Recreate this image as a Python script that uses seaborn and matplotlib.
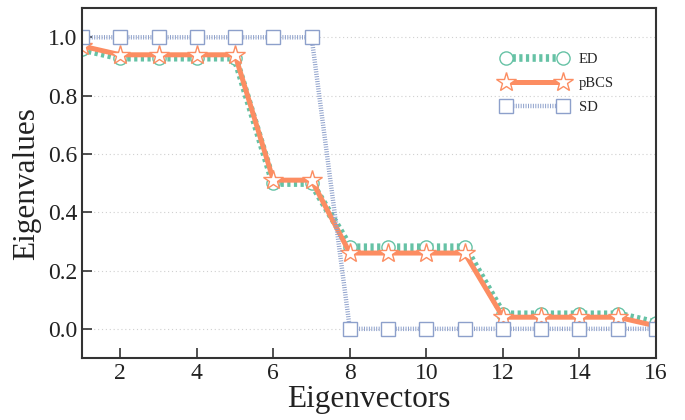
import matplotlib
matplotlib.use("Agg")
import matplotlib.pyplot as plt
import seaborn as sns
import pandas as pd

eigvec = list(range(1, 17))
ed = [0.96, 0.93, 0.93, 0.93, 0.93, 0.50, 0.50, 0.28, 0.28, 0.28, 0.28, 0.05, 0.05, 0.05, 0.05, 0.02]
pbcs = [0.97, 0.94, 0.94, 0.94, 0.94, 0.51, 0.51, 0.26, 0.26, 0.26, 0.26, 0.04, 0.04, 0.04, 0.04, 0.01]
sd = [1.0, 1.0, 1.0, 1.0, 1.0, 1.0, 1.0, 0.0, 0.0, 0.0, 0.0, 0.0, 0.0, 0.0, 0.0, 0.0]
xticks = [2, 4, 6, 8, 10, 12, 14, 16]
yticks = [0.0, 0.2, 0.4, 0.6, 0.8, 1.0]

sns.set_style("ticks")
plt.rcParams['font.family'] = ['Liberation Serif', 'DejaVu Serif']
plt.rcParams['mathtext.fontset'] = 'stix'

df = pd.DataFrame({"x": eigvec, "ED": ed, "pBCS": pbcs, "SD": sd})

fig = plt.figure(figsize=(6.85, 4.2), dpi=100)
ax = fig.add_axes([0.1197, 0.1476, 0.838, 0.833])

green = "#66c2a5"
orange = "#fc8d62"
blue = "#8da0cb"

sns.lineplot(data=df, x="x", y="ED", ax=ax, color=green, lw=5.5,
             marker="o", markersize=9.5, markerfacecolor="white",
             markeredgecolor=green, markeredgewidth=1.0, label="ED")
ax.lines[-1].set_dashes((0.42, 0.45))
sns.lineplot(data=df, x="x", y="pBCS", ax=ax, color=orange, lw=3.6,
             marker="*", markersize=15, markerfacecolor="white",
             markeredgecolor=orange, markeredgewidth=1.0, label="pBCS")
sns.lineplot(data=df, x="x", y="SD", ax=ax, color=blue, lw=3.2,
             marker="s", markersize=9.5, markerfacecolor="white",
             markeredgecolor=blue, markeredgewidth=1.0, label="SD")
ax.lines[-1].set_dashes((0.22, 0.33))

ax.set_xlim(1, 16)
ax.set_ylim(-0.1, 1.1)
ax.set_xticks(xticks)
ax.set_yticks(yticks)
ax.set_xticklabels([str(t) for t in xticks])
ax.set_yticklabels([f"{t:.1f}" for t in yticks])
ax.yaxis.grid(True, linestyle=(0, (1, 2.5)), color="#d0d0d0", lw=0.8)
ax.xaxis.grid(False)
ax.tick_params(direction="in", length=7, width=1.2, colors="#333333",
               labelcolor="#222222", labelsize=17)
for s in ax.spines.values():
    s.set_visible(True)
    s.set_color("#333333")
    s.set_linewidth(1.5)

ax.set_xlabel("Eigenvectors", fontsize=22.5, color="#222222", labelpad=1)
ax.set_ylabel("Eigenvalues", fontsize=22.5, color="#222222", labelpad=5)

leg = ax.legend(loc="upper right", bbox_to_anchor=(0.95, 0.91), frameon=False,
                fontsize=10.5, handlelength=4.5, numpoints=2, labelspacing=0.75)

fig.savefig("out.png", dpi=100)
